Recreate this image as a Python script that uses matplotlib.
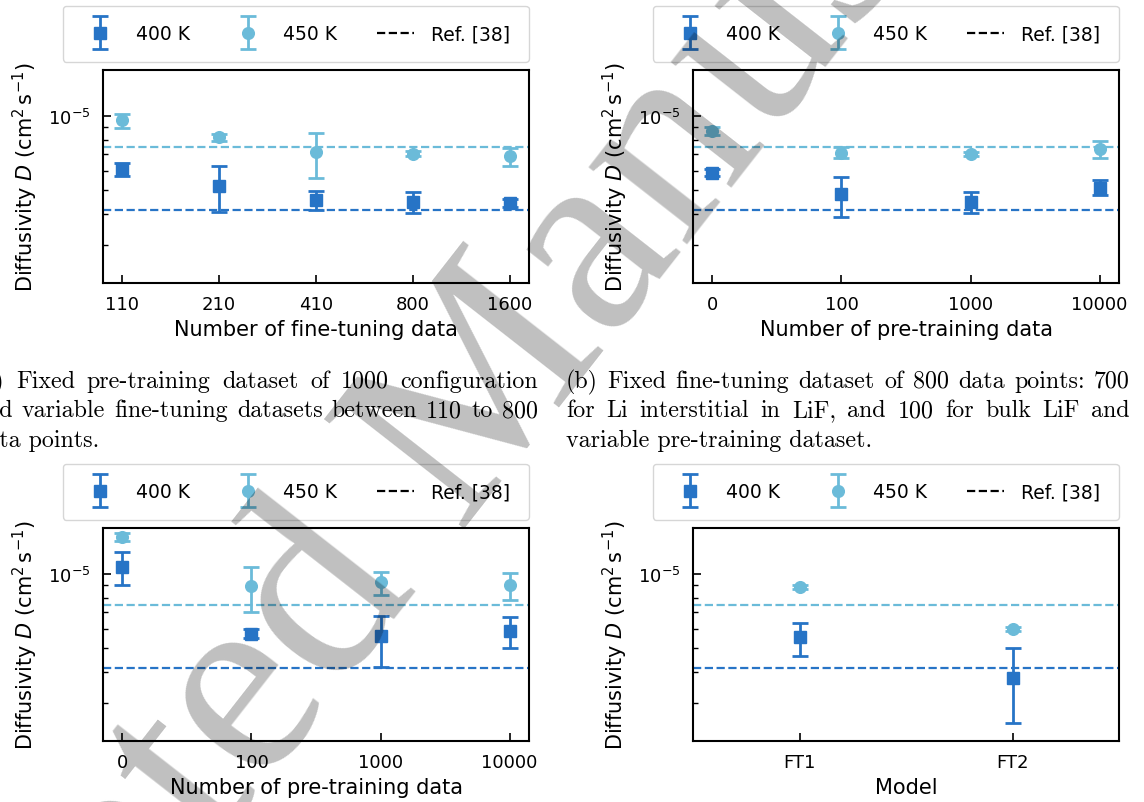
import numpy as np
import matplotlib
matplotlib.use('Agg')
import matplotlib.pyplot as plt
from matplotlib.lines import Line2D
from matplotlib.legend_handler import HandlerErrorbar
from matplotlib.container import ErrorbarContainer
from matplotlib.ticker import NullFormatter

W, H, DPI = 1144, 803, 100

# ---------------- data ----------------
a_labels = ['110', '210', '410', '800', '1600']
a_400 = [6.09e-6, 5.21e-6, 4.57e-6, 4.46e-6, 4.43e-6]
a_400_lo = [5.72e-6, 4.08e-6, 4.15e-6, 4.03e-6, 4.27e-6]
a_400_hi = [6.43e-6, 6.28e-6, 4.97e-6, 4.90e-6, 4.60e-6]
a_450 = [9.63e-6, 8.24e-6, 7.12e-6, 7.05e-6, 6.90e-6]
a_450_lo = [8.91e-6, 7.94e-6, 5.63e-6, 6.86e-6, 6.28e-6]
a_450_hi = [1.025e-5, 8.50e-6, 8.53e-6, 7.23e-6, 7.41e-6]

b_labels = ['0', '100', '1000', '10000']
b_400 = [5.90e-6, 4.82e-6, 4.49e-6, 5.13e-6]
b_400_lo = [5.72e-6, 3.91e-6, 4.03e-6, 4.77e-6]
b_400_hi = [6.09e-6, 5.67e-6, 4.90e-6, 5.49e-6]
b_450 = [8.69e-6, 7.08e-6, 7.03e-6, 7.34e-6]
b_450_lo = [8.37e-6, 6.73e-6, 6.88e-6, 6.73e-6]
b_450_hi = [9.05e-6, 7.46e-6, 7.18e-6, 7.94e-6]

c_labels = ['0', '100', '1000', '10000']
c_400 = [1.074e-5, 5.73e-6, 5.60e-6, 5.88e-6]
c_400_lo = [9.02e-6, 5.49e-6, 4.21e-6, 5.03e-6]
c_400_hi = [1.236e-5, 5.97e-6, 6.77e-6, 6.70e-6]
c_450 = [1.42e-5, 8.91e-6, 9.31e-6, 9.05e-6]
c_450_lo = [1.366e-5, 7.05e-6, 8.24e-6, 7.86e-6]
c_450_hi = [1.476e-5, 1.071e-5, 1.024e-5, 1.015e-5]

d_labels = ['FT1', 'FT2']
d_400 = [5.53e-6, 3.80e-6]
d_400_lo = [4.67e-6, 2.49e-6]
d_400_hi = [6.34e-6, 4.99e-6]
d_450 = [8.88e-6, 5.97e-6]
d_450_lo = [8.70e-6, 5.85e-6]
d_450_hi = [9.06e-6, 6.09e-6]

ref_400 = 4.17e-6
ref_450 = 7.48e-6

xlabels = ['Number of fine-tuning data', 'Number of pre-training data',
           'Number of pre-training data', 'Model']
ylabel = r'Diffusivity $D$ (cm$^2\,$s$^{-1}$)'
series_names = ['400 K', '450 K', 'Ref. [38]']

caption_a = ['(a) Fixed pre-training dataset of 1000 configuration',
             'and variable fine-tuning datasets between 110 to 800',
             'data points.']
caption_b = ['(b) Fixed fine-tuning dataset of 800 data points: 700',
             'for Li interstitial in LiF, and 100 for bulk LiF and',
             'variable pre-training dataset.']
watermark = 'Accepted Manuscript'

C400 = '#2774c6'
C450 = '#6bbbd9'

# ---------------- figure ----------------
fig = plt.figure(figsize=(W / DPI, H / DPI), dpi=DPI)
fig.patch.set_facecolor('white')

def rect(left, top, right, bottom):
    return [left / W, 1 - bottom / H, (right - left) / W, (bottom - top) / H]

panels = [
    (rect(103, 71, 529, 284), a_labels, (a_400, a_400_lo, a_400_hi), (a_450, a_450_lo, a_450_hi)),
    (rect(693, 71, 1119, 284), b_labels, (b_400, b_400_lo, b_400_hi), (b_450, b_450_lo, b_450_hi)),
    (rect(103, 529, 529, 742), c_labels, (c_400, c_400_lo, c_400_hi), (c_450, c_450_lo, c_450_hi)),
    (rect(693, 529, 1119, 742), d_labels, (d_400, d_400_lo, d_400_hi), (d_450, d_450_lo, d_450_hi)),
]

ekw = dict(capsize=5.8, elinewidth=2.0, capthick=2.0, markersize=8.4, linestyle='none')

for i, (pos, labels, s400, s450) in enumerate(panels):
    ax = fig.add_axes(pos)
    x = np.arange(len(labels))
    v, lo, hi = (np.array(t) for t in s400)
    e1 = ax.errorbar(x, v, yerr=[v - lo, hi - v], fmt='s', color=C400, **ekw)
    v, lo, hi = (np.array(t) for t in s450)
    e2 = ax.errorbar(x, v, yerr=[v - lo, hi - v], fmt='o', color=C450, **ekw)
    ax.axhline(ref_400, color=C400, ls='--', lw=1.6)
    ax.axhline(ref_450, color=C450, ls='--', lw=1.6)
    ax.set_yscale('log')
    ax.set_ylim(2.1e-6, 1.54e-5)
    if len(labels) == 2:
        ax.set_xlim(-0.5, 1.5)
    else:
        ax.margins(x=0.05)
    ax.set_xticks(x)
    ax.set_xticklabels(labels)
    ax.yaxis.set_minor_formatter(NullFormatter())
    ax.tick_params(axis='both', which='major', direction='in', length=6, width=1.2,
                   labelsize=13, pad=9)
    ax.tick_params(axis='both', which='minor', direction='in', length=3.5, width=1.0)
    ax.tick_params(axis='x', which='minor', bottom=False)
    for sp in ax.spines.values():
        sp.set_linewidth(1.5)
    ax.set_xlabel(xlabels[i], fontsize=15, labelpad=4)
    ax.set_ylabel(ylabel, fontsize=15, labelpad=6)
    ref_handle = Line2D([], [], color='black', ls='--', lw=1.6)
    ax.legend([e1, e2, ref_handle], series_names, ncol=3, loc='lower right',
              bbox_to_anchor=(1.0, 1.0 + 8 / 213), borderaxespad=0,
              fontsize=13.5, borderpad=1.0, handletextpad=0.9, columnspacing=2.1,
              handlelength=2.0,
              handler_map={ErrorbarContainer: HandlerErrorbar(yerr_size=0.88)})

# ---------------- captions (justified, serif) ----------------
renderer = fig.canvas.get_renderer()
CAP_FS = 17.3

def draw_caption(lines, x0, x1, baselines):
    for k, (line, yb) in enumerate(zip(lines, baselines)):
        if k == len(lines) - 1:
            fig.text(x0 / W, 1 - yb / H, line, fontsize=CAP_FS, family='cmr10',
                     va='baseline', ha='left')
            continue
        words = line.split(' ')
        arts = [fig.text(0, 1 - yb / H, w, fontsize=CAP_FS, family='cmr10',
                         va='baseline', ha='left') for w in words]
        widths = [a.get_window_extent(renderer).width for a in arts]
        gap = (x1 - x0 - sum(widths)) / (len(words) - 1)
        xx = x0
        for a, wd in zip(arts, widths):
            a.set_x(xx / W)
            xx += wd + gap

draw_caption(caption_a, -26, 538, [388, 417.5, 447])
draw_caption(caption_b, 566, 1130, [388, 417.5, 447])

# ---------------- watermark ----------------
fig.text(-215 / W, 1 - 1398 / H, watermark, fontsize=196, family='Liberation Serif',
         rotation=52, rotation_mode='anchor', ha='left', va='baseline',
         color='black', alpha=0.25, zorder=100)

fig.savefig('out.png', dpi=DPI, facecolor='white')
